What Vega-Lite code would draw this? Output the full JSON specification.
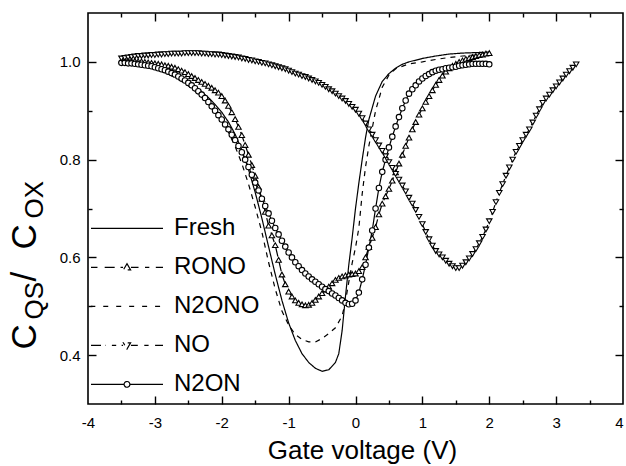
{
  "$schema": "https://vega.github.io/schema/vega-lite/v6.json",
  "width": 535,
  "height": 391,
  "autosize": "none",
  "padding": {"left": 88, "top": 13, "right": 3, "bottom": 62},
  "background": "white",
  "config": {
    "view": {"stroke": "black", "strokeWidth": 1.6},
    "font": "Liberation Sans",
    "axis": {
      "domain": false, "grid": false,
      "labelFont": "Liberation Sans", "labelFontSize": 15, "labelColor": "black",
      "tickColor": "black", "tickWidth": 1.4,
      "titleFont": "Liberation Sans", "titleColor": "black", "titleFontWeight": "normal"
    }
  },
  "data": {"values": [
    {"s":"Fresh","x":-3.5,"y":1.0},{"s":"Fresh","x":-3.4,"y":0.999},{"s":"Fresh","x":-3.3,"y":0.998},{"s":"Fresh","x":-3.2,"y":0.996},{"s":"Fresh","x":-3.1,"y":0.993},{"s":"Fresh","x":-3.0,"y":0.99},{"s":"Fresh","x":-2.9,"y":0.986},{"s":"Fresh","x":-2.8,"y":0.981},{"s":"Fresh","x":-2.7,"y":0.975},{"s":"Fresh","x":-2.6,"y":0.968},{"s":"Fresh","x":-2.5,"y":0.96},{"s":"Fresh","x":-2.4,"y":0.95},{"s":"Fresh","x":-2.3,"y":0.939},{"s":"Fresh","x":-2.2,"y":0.927},{"s":"Fresh","x":-2.1,"y":0.913},{"s":"Fresh","x":-2.0,"y":0.897},{"s":"Fresh","x":-1.9,"y":0.877},{"s":"Fresh","x":-1.8,"y":0.852},{"s":"Fresh","x":-1.7,"y":0.82},{"s":"Fresh","x":-1.6,"y":0.78},{"s":"Fresh","x":-1.5,"y":0.733},{"s":"Fresh","x":-1.4,"y":0.68},{"s":"Fresh","x":-1.3,"y":0.622},{"s":"Fresh","x":-1.2,"y":0.565},{"s":"Fresh","x":-1.1,"y":0.512},{"s":"Fresh","x":-1.0,"y":0.466},{"s":"Fresh","x":-0.9,"y":0.43},{"s":"Fresh","x":-0.8,"y":0.403},{"s":"Fresh","x":-0.7,"y":0.385},{"s":"Fresh","x":-0.6,"y":0.373},{"s":"Fresh","x":-0.5,"y":0.367},{"s":"Fresh","x":-0.4,"y":0.37},{"s":"Fresh","x":-0.3,"y":0.385},{"s":"Fresh","x":-0.25,"y":0.403},{"s":"Fresh","x":-0.2,"y":0.45},{"s":"Fresh","x":-0.15,"y":0.52},{"s":"Fresh","x":-0.1,"y":0.585},{"s":"Fresh","x":-0.05,"y":0.64},{"s":"Fresh","x":0.0,"y":0.7},{"s":"Fresh","x":0.05,"y":0.752},{"s":"Fresh","x":0.1,"y":0.8},{"s":"Fresh","x":0.15,"y":0.845},{"s":"Fresh","x":0.2,"y":0.882},{"s":"Fresh","x":0.3,"y":0.93},{"s":"Fresh","x":0.4,"y":0.96},{"s":"Fresh","x":0.5,"y":0.976},{"s":"Fresh","x":0.6,"y":0.987},{"s":"Fresh","x":0.7,"y":0.995},{"s":"Fresh","x":0.8,"y":1.0},{"s":"Fresh","x":1.0,"y":1.007},{"s":"Fresh","x":1.2,"y":1.012},{"s":"Fresh","x":1.4,"y":1.016},{"s":"Fresh","x":1.6,"y":1.018},{"s":"Fresh","x":1.8,"y":1.019},{"s":"Fresh","x":2.0,"y":1.02},

    {"s":"N2ONO","x":-3.5,"y":1.0},{"s":"N2ONO","x":-3.4,"y":0.998},{"s":"N2ONO","x":-3.3,"y":0.996},{"s":"N2ONO","x":-3.2,"y":0.993},{"s":"N2ONO","x":-3.1,"y":0.99},{"s":"N2ONO","x":-3.0,"y":0.986},{"s":"N2ONO","x":-2.9,"y":0.981},{"s":"N2ONO","x":-2.8,"y":0.975},{"s":"N2ONO","x":-2.7,"y":0.968},{"s":"N2ONO","x":-2.6,"y":0.96},{"s":"N2ONO","x":-2.5,"y":0.951},{"s":"N2ONO","x":-2.4,"y":0.94},{"s":"N2ONO","x":-2.3,"y":0.928},{"s":"N2ONO","x":-2.2,"y":0.914},{"s":"N2ONO","x":-2.1,"y":0.898},{"s":"N2ONO","x":-2.0,"y":0.879},{"s":"N2ONO","x":-1.9,"y":0.856},{"s":"N2ONO","x":-1.8,"y":0.827},{"s":"N2ONO","x":-1.7,"y":0.792},{"s":"N2ONO","x":-1.6,"y":0.75},{"s":"N2ONO","x":-1.5,"y":0.703},{"s":"N2ONO","x":-1.4,"y":0.652},{"s":"N2ONO","x":-1.3,"y":0.59},{"s":"N2ONO","x":-1.2,"y":0.535},{"s":"N2ONO","x":-1.1,"y":0.49},{"s":"N2ONO","x":-1.0,"y":0.462},{"s":"N2ONO","x":-0.9,"y":0.442},{"s":"N2ONO","x":-0.8,"y":0.432},{"s":"N2ONO","x":-0.7,"y":0.427},{"s":"N2ONO","x":-0.6,"y":0.427},{"s":"N2ONO","x":-0.5,"y":0.434},{"s":"N2ONO","x":-0.4,"y":0.444},{"s":"N2ONO","x":-0.3,"y":0.456},{"s":"N2ONO","x":-0.2,"y":0.48},{"s":"N2ONO","x":-0.15,"y":0.51},{"s":"N2ONO","x":-0.1,"y":0.55},{"s":"N2ONO","x":-0.05,"y":0.588},{"s":"N2ONO","x":0.0,"y":0.62},{"s":"N2ONO","x":0.05,"y":0.66},{"s":"N2ONO","x":0.1,"y":0.73},{"s":"N2ONO","x":0.15,"y":0.785},{"s":"N2ONO","x":0.2,"y":0.828},{"s":"N2ONO","x":0.3,"y":0.9},{"s":"N2ONO","x":0.4,"y":0.948},{"s":"N2ONO","x":0.5,"y":0.973},{"s":"N2ONO","x":0.6,"y":0.986},{"s":"N2ONO","x":0.8,"y":0.996},{"s":"N2ONO","x":1.0,"y":1.0},{"s":"N2ONO","x":1.2,"y":1.005},{"s":"N2ONO","x":1.4,"y":1.009},{"s":"N2ONO","x":1.6,"y":1.012},{"s":"N2ONO","x":1.8,"y":1.014},{"s":"N2ONO","x":2.0,"y":1.016},

    {"s":"RONO","x":-3.5,"y":1.003},{"s":"RONO","x":-3.45,"y":1.003},{"s":"RONO","x":-3.4,"y":1.003},{"s":"RONO","x":-3.35,"y":1.002},{"s":"RONO","x":-3.3,"y":1.002},{"s":"RONO","x":-3.25,"y":1.001},{"s":"RONO","x":-3.2,"y":1.001},{"s":"RONO","x":-3.15,"y":1.0},{"s":"RONO","x":-3.1,"y":0.999},{"s":"RONO","x":-3.05,"y":0.998},{"s":"RONO","x":-3.0,"y":0.997},{"s":"RONO","x":-2.95,"y":0.996},{"s":"RONO","x":-2.9,"y":0.995},{"s":"RONO","x":-2.85,"y":0.993},{"s":"RONO","x":-2.8,"y":0.992},{"s":"RONO","x":-2.75,"y":0.99},{"s":"RONO","x":-2.7,"y":0.988},{"s":"RONO","x":-2.65,"y":0.985},{"s":"RONO","x":-2.6,"y":0.982},{"s":"RONO","x":-2.55,"y":0.979},{"s":"RONO","x":-2.5,"y":0.975},{"s":"RONO","x":-2.45,"y":0.971},{"s":"RONO","x":-2.4,"y":0.967},{"s":"RONO","x":-2.35,"y":0.963},{"s":"RONO","x":-2.3,"y":0.959},{"s":"RONO","x":-2.25,"y":0.955},{"s":"RONO","x":-2.2,"y":0.951},{"s":"RONO","x":-2.15,"y":0.947},{"s":"RONO","x":-2.1,"y":0.942},{"s":"RONO","x":-2.05,"y":0.937},{"s":"RONO","x":-2.0,"y":0.93},{"s":"RONO","x":-1.95,"y":0.921},{"s":"RONO","x":-1.9,"y":0.91},{"s":"RONO","x":-1.85,"y":0.897},{"s":"RONO","x":-1.8,"y":0.883},{"s":"RONO","x":-1.75,"y":0.867},{"s":"RONO","x":-1.7,"y":0.85},{"s":"RONO","x":-1.65,"y":0.83},{"s":"RONO","x":-1.6,"y":0.81},{"s":"RONO","x":-1.55,"y":0.789},{"s":"RONO","x":-1.5,"y":0.767},{"s":"RONO","x":-1.45,"y":0.744},{"s":"RONO","x":-1.4,"y":0.72},{"s":"RONO","x":-1.35,"y":0.693},{"s":"RONO","x":-1.3,"y":0.665},{"s":"RONO","x":-1.25,"y":0.645},{"s":"RONO","x":-1.2,"y":0.625},{"s":"RONO","x":-1.15,"y":0.595},{"s":"RONO","x":-1.1,"y":0.565},{"s":"RONO","x":-1.05,"y":0.545},{"s":"RONO","x":-1.0,"y":0.53},{"s":"RONO","x":-0.95,"y":0.52},{"s":"RONO","x":-0.9,"y":0.512},{"s":"RONO","x":-0.85,"y":0.507},{"s":"RONO","x":-0.8,"y":0.504},{"s":"RONO","x":-0.75,"y":0.502},{"s":"RONO","x":-0.7,"y":0.503},{"s":"RONO","x":-0.65,"y":0.507},{"s":"RONO","x":-0.6,"y":0.513},{"s":"RONO","x":-0.55,"y":0.52},{"s":"RONO","x":-0.5,"y":0.527},{"s":"RONO","x":-0.45,"y":0.534},{"s":"RONO","x":-0.4,"y":0.54},{"s":"RONO","x":-0.35,"y":0.547},{"s":"RONO","x":-0.3,"y":0.554},{"s":"RONO","x":-0.25,"y":0.558},{"s":"RONO","x":-0.2,"y":0.561},{"s":"RONO","x":-0.15,"y":0.563},{"s":"RONO","x":-0.1,"y":0.565},{"s":"RONO","x":-0.05,"y":0.566},{"s":"RONO","x":0.0,"y":0.567},{"s":"RONO","x":0.05,"y":0.572},{"s":"RONO","x":0.1,"y":0.58},{"s":"RONO","x":0.15,"y":0.6},{"s":"RONO","x":0.2,"y":0.621},{"s":"RONO","x":0.25,"y":0.64},{"s":"RONO","x":0.3,"y":0.662},{"s":"RONO","x":0.35,"y":0.688},{"s":"RONO","x":0.4,"y":0.71},{"s":"RONO","x":0.45,"y":0.725},{"s":"RONO","x":0.5,"y":0.74},{"s":"RONO","x":0.55,"y":0.757},{"s":"RONO","x":0.6,"y":0.774},{"s":"RONO","x":0.65,"y":0.792},{"s":"RONO","x":0.7,"y":0.81},{"s":"RONO","x":0.75,"y":0.828},{"s":"RONO","x":0.8,"y":0.845},{"s":"RONO","x":0.85,"y":0.862},{"s":"RONO","x":0.9,"y":0.877},{"s":"RONO","x":0.95,"y":0.892},{"s":"RONO","x":1.0,"y":0.905},{"s":"RONO","x":1.05,"y":0.918},{"s":"RONO","x":1.1,"y":0.93},{"s":"RONO","x":1.15,"y":0.942},{"s":"RONO","x":1.2,"y":0.953},{"s":"RONO","x":1.25,"y":0.963},{"s":"RONO","x":1.3,"y":0.972},{"s":"RONO","x":1.35,"y":0.98},{"s":"RONO","x":1.4,"y":0.987},{"s":"RONO","x":1.45,"y":0.992},{"s":"RONO","x":1.5,"y":0.996},{"s":"RONO","x":1.55,"y":1.0},{"s":"RONO","x":1.6,"y":1.003},{"s":"RONO","x":1.65,"y":1.006},{"s":"RONO","x":1.7,"y":1.008},{"s":"RONO","x":1.75,"y":1.01},{"s":"RONO","x":1.8,"y":1.012},{"s":"RONO","x":1.85,"y":1.014},{"s":"RONO","x":1.9,"y":1.015},{"s":"RONO","x":1.95,"y":1.017},{"s":"RONO","x":2.0,"y":1.018},

    {"s":"N2ON","x":-3.5,"y":0.998},{"s":"N2ON","x":-3.45,"y":0.998},{"s":"N2ON","x":-3.4,"y":0.997},{"s":"N2ON","x":-3.35,"y":0.997},{"s":"N2ON","x":-3.3,"y":0.996},{"s":"N2ON","x":-3.25,"y":0.995},{"s":"N2ON","x":-3.2,"y":0.994},{"s":"N2ON","x":-3.15,"y":0.993},{"s":"N2ON","x":-3.1,"y":0.992},{"s":"N2ON","x":-3.05,"y":0.991},{"s":"N2ON","x":-3.0,"y":0.989},{"s":"N2ON","x":-2.95,"y":0.987},{"s":"N2ON","x":-2.9,"y":0.985},{"s":"N2ON","x":-2.85,"y":0.983},{"s":"N2ON","x":-2.8,"y":0.98},{"s":"N2ON","x":-2.75,"y":0.977},{"s":"N2ON","x":-2.7,"y":0.974},{"s":"N2ON","x":-2.65,"y":0.97},{"s":"N2ON","x":-2.6,"y":0.966},{"s":"N2ON","x":-2.55,"y":0.962},{"s":"N2ON","x":-2.5,"y":0.957},{"s":"N2ON","x":-2.45,"y":0.952},{"s":"N2ON","x":-2.4,"y":0.946},{"s":"N2ON","x":-2.35,"y":0.94},{"s":"N2ON","x":-2.3,"y":0.933},{"s":"N2ON","x":-2.25,"y":0.926},{"s":"N2ON","x":-2.2,"y":0.918},{"s":"N2ON","x":-2.15,"y":0.909},{"s":"N2ON","x":-2.1,"y":0.9},{"s":"N2ON","x":-2.05,"y":0.891},{"s":"N2ON","x":-2.0,"y":0.882},{"s":"N2ON","x":-1.95,"y":0.872},{"s":"N2ON","x":-1.9,"y":0.862},{"s":"N2ON","x":-1.85,"y":0.851},{"s":"N2ON","x":-1.8,"y":0.84},{"s":"N2ON","x":-1.75,"y":0.828},{"s":"N2ON","x":-1.7,"y":0.815},{"s":"N2ON","x":-1.65,"y":0.8},{"s":"N2ON","x":-1.6,"y":0.785},{"s":"N2ON","x":-1.55,"y":0.769},{"s":"N2ON","x":-1.5,"y":0.753},{"s":"N2ON","x":-1.45,"y":0.737},{"s":"N2ON","x":-1.4,"y":0.72},{"s":"N2ON","x":-1.35,"y":0.705},{"s":"N2ON","x":-1.3,"y":0.69},{"s":"N2ON","x":-1.25,"y":0.675},{"s":"N2ON","x":-1.2,"y":0.66},{"s":"N2ON","x":-1.15,"y":0.647},{"s":"N2ON","x":-1.1,"y":0.634},{"s":"N2ON","x":-1.05,"y":0.622},{"s":"N2ON","x":-1.0,"y":0.61},{"s":"N2ON","x":-0.95,"y":0.6},{"s":"N2ON","x":-0.9,"y":0.59},{"s":"N2ON","x":-0.85,"y":0.582},{"s":"N2ON","x":-0.8,"y":0.574},{"s":"N2ON","x":-0.75,"y":0.567},{"s":"N2ON","x":-0.7,"y":0.561},{"s":"N2ON","x":-0.65,"y":0.555},{"s":"N2ON","x":-0.6,"y":0.55},{"s":"N2ON","x":-0.55,"y":0.545},{"s":"N2ON","x":-0.5,"y":0.54},{"s":"N2ON","x":-0.45,"y":0.535},{"s":"N2ON","x":-0.4,"y":0.531},{"s":"N2ON","x":-0.35,"y":0.526},{"s":"N2ON","x":-0.3,"y":0.522},{"s":"N2ON","x":-0.25,"y":0.517},{"s":"N2ON","x":-0.2,"y":0.512},{"s":"N2ON","x":-0.15,"y":0.507},{"s":"N2ON","x":-0.1,"y":0.504},{"s":"N2ON","x":-0.05,"y":0.505},{"s":"N2ON","x":0.0,"y":0.512},{"s":"N2ON","x":0.05,"y":0.528},{"s":"N2ON","x":0.1,"y":0.555},{"s":"N2ON","x":0.15,"y":0.585},{"s":"N2ON","x":0.2,"y":0.62},{"s":"N2ON","x":0.25,"y":0.655},{"s":"N2ON","x":0.3,"y":0.7},{"s":"N2ON","x":0.35,"y":0.742},{"s":"N2ON","x":0.4,"y":0.775},{"s":"N2ON","x":0.45,"y":0.8},{"s":"N2ON","x":0.5,"y":0.825},{"s":"N2ON","x":0.55,"y":0.847},{"s":"N2ON","x":0.6,"y":0.868},{"s":"N2ON","x":0.65,"y":0.887},{"s":"N2ON","x":0.7,"y":0.905},{"s":"N2ON","x":0.75,"y":0.921},{"s":"N2ON","x":0.8,"y":0.935},{"s":"N2ON","x":0.85,"y":0.944},{"s":"N2ON","x":0.9,"y":0.952},{"s":"N2ON","x":0.95,"y":0.96},{"s":"N2ON","x":1.0,"y":0.966},{"s":"N2ON","x":1.05,"y":0.971},{"s":"N2ON","x":1.1,"y":0.975},{"s":"N2ON","x":1.15,"y":0.979},{"s":"N2ON","x":1.2,"y":0.982},{"s":"N2ON","x":1.25,"y":0.984},{"s":"N2ON","x":1.3,"y":0.985},{"s":"N2ON","x":1.35,"y":0.987},{"s":"N2ON","x":1.4,"y":0.988},{"s":"N2ON","x":1.45,"y":0.989},{"s":"N2ON","x":1.5,"y":0.99},{"s":"N2ON","x":1.55,"y":0.992},{"s":"N2ON","x":1.6,"y":0.993},{"s":"N2ON","x":1.65,"y":0.994},{"s":"N2ON","x":1.7,"y":0.995},{"s":"N2ON","x":1.75,"y":0.996},{"s":"N2ON","x":1.8,"y":0.996},{"s":"N2ON","x":1.85,"y":0.996},{"s":"N2ON","x":1.9,"y":0.996},{"s":"N2ON","x":1.95,"y":0.996},{"s":"N2ON","x":2.0,"y":0.995},

    {"s":"NO","x":-3.5,"y":1.007},{"s":"NO","x":-3.45,"y":1.008},{"s":"NO","x":-3.4,"y":1.009},{"s":"NO","x":-3.35,"y":1.01},{"s":"NO","x":-3.3,"y":1.011},{"s":"NO","x":-3.25,"y":1.012},{"s":"NO","x":-3.2,"y":1.012},{"s":"NO","x":-3.15,"y":1.013},{"s":"NO","x":-3.1,"y":1.013},{"s":"NO","x":-3.05,"y":1.014},{"s":"NO","x":-3.0,"y":1.014},{"s":"NO","x":-2.95,"y":1.015},{"s":"NO","x":-2.9,"y":1.015},{"s":"NO","x":-2.85,"y":1.016},{"s":"NO","x":-2.8,"y":1.016},{"s":"NO","x":-2.75,"y":1.017},{"s":"NO","x":-2.7,"y":1.017},{"s":"NO","x":-2.65,"y":1.017},{"s":"NO","x":-2.6,"y":1.017},{"s":"NO","x":-2.55,"y":1.018},{"s":"NO","x":-2.5,"y":1.018},{"s":"NO","x":-2.45,"y":1.018},{"s":"NO","x":-2.4,"y":1.018},{"s":"NO","x":-2.35,"y":1.018},{"s":"NO","x":-2.3,"y":1.017},{"s":"NO","x":-2.25,"y":1.017},{"s":"NO","x":-2.2,"y":1.016},{"s":"NO","x":-2.15,"y":1.016},{"s":"NO","x":-2.1,"y":1.015},{"s":"NO","x":-2.05,"y":1.015},{"s":"NO","x":-2.0,"y":1.014},{"s":"NO","x":-1.95,"y":1.013},{"s":"NO","x":-1.9,"y":1.012},{"s":"NO","x":-1.85,"y":1.011},{"s":"NO","x":-1.8,"y":1.01},{"s":"NO","x":-1.75,"y":1.009},{"s":"NO","x":-1.7,"y":1.007},{"s":"NO","x":-1.65,"y":1.006},{"s":"NO","x":-1.6,"y":1.004},{"s":"NO","x":-1.55,"y":1.003},{"s":"NO","x":-1.5,"y":1.001},{"s":"NO","x":-1.45,"y":1.0},{"s":"NO","x":-1.4,"y":0.998},{"s":"NO","x":-1.35,"y":0.997},{"s":"NO","x":-1.3,"y":0.995},{"s":"NO","x":-1.25,"y":0.993},{"s":"NO","x":-1.2,"y":0.991},{"s":"NO","x":-1.15,"y":0.989},{"s":"NO","x":-1.1,"y":0.987},{"s":"NO","x":-1.05,"y":0.985},{"s":"NO","x":-1.0,"y":0.982},{"s":"NO","x":-0.95,"y":0.979},{"s":"NO","x":-0.9,"y":0.976},{"s":"NO","x":-0.85,"y":0.974},{"s":"NO","x":-0.8,"y":0.971},{"s":"NO","x":-0.75,"y":0.969},{"s":"NO","x":-0.7,"y":0.966},{"s":"NO","x":-0.65,"y":0.963},{"s":"NO","x":-0.6,"y":0.96},{"s":"NO","x":-0.55,"y":0.957},{"s":"NO","x":-0.5,"y":0.953},{"s":"NO","x":-0.45,"y":0.949},{"s":"NO","x":-0.4,"y":0.944},{"s":"NO","x":-0.35,"y":0.94},{"s":"NO","x":-0.3,"y":0.935},{"s":"NO","x":-0.25,"y":0.93},{"s":"NO","x":-0.2,"y":0.925},{"s":"NO","x":-0.15,"y":0.92},{"s":"NO","x":-0.1,"y":0.914},{"s":"NO","x":-0.05,"y":0.908},{"s":"NO","x":0.0,"y":0.902},{"s":"NO","x":0.05,"y":0.894},{"s":"NO","x":0.1,"y":0.885},{"s":"NO","x":0.15,"y":0.874},{"s":"NO","x":0.2,"y":0.862},{"s":"NO","x":0.25,"y":0.851},{"s":"NO","x":0.3,"y":0.84},{"s":"NO","x":0.35,"y":0.829},{"s":"NO","x":0.4,"y":0.818},{"s":"NO","x":0.45,"y":0.807},{"s":"NO","x":0.5,"y":0.795},{"s":"NO","x":0.55,"y":0.783},{"s":"NO","x":0.6,"y":0.771},{"s":"NO","x":0.65,"y":0.759},{"s":"NO","x":0.7,"y":0.747},{"s":"NO","x":0.75,"y":0.735},{"s":"NO","x":0.8,"y":0.722},{"s":"NO","x":0.85,"y":0.71},{"s":"NO","x":0.9,"y":0.697},{"s":"NO","x":0.95,"y":0.683},{"s":"NO","x":1.0,"y":0.668},{"s":"NO","x":1.05,"y":0.652},{"s":"NO","x":1.1,"y":0.637},{"s":"NO","x":1.15,"y":0.624},{"s":"NO","x":1.2,"y":0.613},{"s":"NO","x":1.25,"y":0.606},{"s":"NO","x":1.3,"y":0.6},{"s":"NO","x":1.35,"y":0.593},{"s":"NO","x":1.4,"y":0.587},{"s":"NO","x":1.45,"y":0.582},{"s":"NO","x":1.5,"y":0.578},{"s":"NO","x":1.55,"y":0.578},{"s":"NO","x":1.6,"y":0.583},{"s":"NO","x":1.65,"y":0.59},{"s":"NO","x":1.7,"y":0.598},{"s":"NO","x":1.75,"y":0.607},{"s":"NO","x":1.8,"y":0.617},{"s":"NO","x":1.85,"y":0.629},{"s":"NO","x":1.9,"y":0.642},{"s":"NO","x":1.95,"y":0.657},{"s":"NO","x":2.0,"y":0.674},{"s":"NO","x":2.05,"y":0.693},{"s":"NO","x":2.1,"y":0.713},{"s":"NO","x":2.15,"y":0.732},{"s":"NO","x":2.2,"y":0.75},{"s":"NO","x":2.25,"y":0.767},{"s":"NO","x":2.3,"y":0.784},{"s":"NO","x":2.35,"y":0.8},{"s":"NO","x":2.4,"y":0.816},{"s":"NO","x":2.45,"y":0.828},{"s":"NO","x":2.5,"y":0.84},{"s":"NO","x":2.55,"y":0.851},{"s":"NO","x":2.6,"y":0.862},{"s":"NO","x":2.65,"y":0.876},{"s":"NO","x":2.7,"y":0.89},{"s":"NO","x":2.75,"y":0.903},{"s":"NO","x":2.8,"y":0.916},{"s":"NO","x":2.85,"y":0.925},{"s":"NO","x":2.9,"y":0.933},{"s":"NO","x":2.95,"y":0.942},{"s":"NO","x":3.0,"y":0.95},{"s":"NO","x":3.05,"y":0.958},{"s":"NO","x":3.1,"y":0.966},{"s":"NO","x":3.15,"y":0.974},{"s":"NO","x":3.2,"y":0.981},{"s":"NO","x":3.25,"y":0.988},{"s":"NO","x":3.3,"y":0.995}
  ]},
  "layer": [
    {
      "mark": {"type": "line", "color": "black", "strokeWidth": 1.2, "clip": true},
      "encoding": {
        "x": {"field": "x", "type": "quantitative", "scale": {"domain": [-4, 4], "nice": false, "zero": false},
          "axis": {"orient": "bottom", "values": [-4,-3,-2,-1,0,1,2,3,4], "ticks": false,
            "labelExpr": "'' + datum.value", "labelPadding": 11, "labelFlush": false,
            "labelAlign": {"condition": {"test": "datum.value === 4", "value": "right"}, "value": "center"},
            "title": "Gate voltage (V)", "titleFontSize": 26, "titleX": 274, "titleY": 54, "titleBaseline": "alphabetic", "titleAlign": "center"}},
        "y": {"field": "y", "type": "quantitative", "scale": {"domain": [0.3, 1.1], "nice": false, "zero": false},
          "axis": {"orient": "left", "values": [0.4,0.6,0.8,1.0], "ticks": false, "format": ".1f",
            "labelPadding": 8,
            "title": "C", "titleFontSize": 35, "titleAngle": -90, "titleAlign": "left", "titleBaseline": "alphabetic", "titleX": -53, "titleY": 336}},
        "strokeDash": {"field": "s", "type": "nominal",
          "scale": {"domain": ["Fresh","RONO","N2ONO","NO","N2ON"], "range": [[1,0],[10,5],[5,5],[10,4,3,4],[1,0]]},
          "legend": {
            "orient": "none", "legendX": 2, "legendY": 196, "title": null, "padding": 0,
            "labelFont": "Liberation Sans", "labelFontSize": 24, "labelColor": "black", "labelOffset": 10, "labelLimit": 300,
            "symbolSize": 5184, "symbolStrokeWidth": 1.2, "symbolStrokeColor": "black", "symbolFillColor": "white",
            "clipHeight": 38.75, "rowPadding": 0,
            "encode": {"symbols": {"update": {
              "strokeDash": {"value": [1,0]},
              "fill": {"value": "white"},
              "stroke": {"value": "black"},
              "shape": {"signal": "datum.value === 'RONO' ? 'M-1,0L-0.82,0M-0.62,0L-0.3,0M-0.18,0L-0.11,0M0.11,0L0.32,0M0.5,0L0.62,0M0.8,0L1,0M0,-0.1L0.1,0.07L-0.1,0.07Z' : datum.value === 'N2ONO' ? 'M-1,0L-0.88,0M-0.66,0L-0.52,0M-0.3,0L-0.16,0M0.06,0L0.2,0M0.42,0L0.56,0M0.78,0L0.92,0' : datum.value === 'NO' ? 'M-1,0L-0.6,0M-0.42,0L-0.3,0M-0.15,0L-0.11,0M0.11,0L0.3,0M0.48,0L0.6,0M0.78,0L1,0M0,0.1L0.1,-0.07L-0.1,-0.07Z' : datum.value === 'N2ON' ? 'M-1,0L-0.09,0M0.09,0L1,0M-0.08,0A0.08,0.08,0,1,0,0.08,0A0.08,0.08,0,1,0,-0.08,0Z' : 'M-1,0L1,0'"}
            }}}
          }},
        "order": {"field": "x", "type": "quantitative"}
      }
    },
    {
      "transform": [{"filter": "datum.s === 'RONO' || datum.s === 'NO' || datum.s === 'N2ON'"}],
      "mark": {"type": "point", "filled": true, "fill": "white", "stroke": "black", "strokeWidth": 1.1, "size": 30, "opacity": 1, "clip": true},
      "encoding": {
        "x": {"field": "x", "type": "quantitative",
          "axis": {"orient": "top", "offset": -391, "values": [-3.5,-3,-2.5,-2,-1.5,-1,-0.5,0,0.5,1,1.5,2,2.5,3,3.5], "labels": false, "title": null,
            "tickSize": {"condition": {"test": "datum.value % 1 === 0", "value": 8}, "value": 4}}},
        "y": {"field": "y", "type": "quantitative",
          "axis": {"orient": "right", "offset": -535, "values": [0.4,0.5,0.6,0.7,0.8,0.9,1.0], "labels": false, "title": null,
            "tickSize": {"condition": {"test": "round(datum.value*10) % 2 === 0", "value": 8}, "value": 4}}},
        "shape": {"field": "s", "type": "nominal", "scale": {"domain": ["RONO","NO","N2ON"], "range": ["triangle-up","triangle-down","circle"]}, "legend": null}
      }
    },
    {
      "transform": [{"filter": "datum.s === 'Fresh' && datum.x === -3.5"}],
      "mark": {"type": "point", "opacity": 0},
      "encoding": {
        "x": {"field": "x", "type": "quantitative",
          "axis": {"orient": "bottom", "offset": -391, "values": [-3.5,-3,-2.5,-2,-1.5,-1,-0.5,0,0.5,1,1.5,2,2.5,3,3.5], "labels": false, "title": null,
            "tickSize": {"condition": {"test": "datum.value % 1 === 0", "value": 8}, "value": 4}}},
        "y": {"field": "y", "type": "quantitative",
          "axis": {"orient": "left", "labels": false, "ticks": false, "title": "QS", "titleFontSize": 26, "titleAngle": -90, "titleAlign": "left", "titleBaseline": "alphabetic", "titleX": -46, "titleY": 306}}
      }
    },
    {
      "transform": [{"filter": "datum.s === 'Fresh' && datum.x === -3.4"}],
      "mark": {"type": "point", "opacity": 0},
      "encoding": {
        "x": {"field": "x", "type": "quantitative", "axis": null},
        "y": {"field": "y", "type": "quantitative",
          "axis": {"orient": "left", "labels": false, "ticks": false, "title": "/", "titleFontSize": 35, "titleAngle": -90, "titleAlign": "left", "titleBaseline": "alphabetic", "titleX": -53, "titleY": 268}}
      }
    },
    {
      "transform": [{"filter": "datum.s === 'Fresh' && datum.x === -3.3"}],
      "mark": {"type": "point", "opacity": 0},
      "encoding": {
        "x": {"field": "x", "type": "quantitative", "axis": null},
        "y": {"field": "y", "type": "quantitative",
          "axis": {"orient": "left", "labels": false, "ticks": false, "title": "C", "titleFontSize": 35, "titleAngle": -90, "titleAlign": "left", "titleBaseline": "alphabetic", "titleX": -53, "titleY": 236}}
      }
    },
    {
      "transform": [{"filter": "datum.s === 'Fresh' && datum.x === -3.2"}],
      "mark": {"type": "point", "opacity": 0},
      "encoding": {
        "x": {"field": "x", "type": "quantitative", "axis": null},
        "y": {"field": "y", "type": "quantitative",
          "axis": {"orient": "left", "labels": false, "ticks": false, "title": "OX", "titleFontSize": 26, "titleAngle": -90, "titleAlign": "left", "titleBaseline": "alphabetic", "titleX": -46, "titleY": 205}}
      }
    },
    {
      "transform": [{"filter": "datum.s === 'Fresh' && datum.x === -3.1"}],
      "mark": {"type": "point", "opacity": 0},
      "encoding": {
        "x": {"field": "x", "type": "quantitative", "axis": null},
        "y": {"field": "y", "type": "quantitative",
          "axis": {"orient": "left", "offset": -535, "values": [0.4,0.5,0.6,0.7,0.8,0.9,1.0], "labels": false, "title": null,
            "tickSize": {"condition": {"test": "round(datum.value*10) % 2 === 0", "value": 8}, "value": 4}}}
      }
    }
  ],
  "resolve": {"axis": {"x": "independent", "y": "independent"}}
}
